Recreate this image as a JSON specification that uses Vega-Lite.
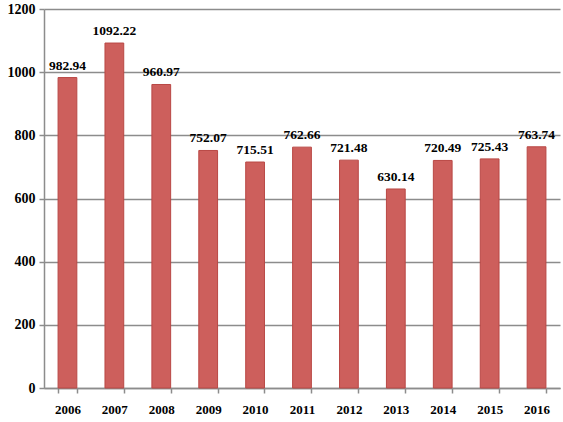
{
  "$schema": "https://vega.github.io/schema/vega-lite/v6.json",
  "width": 516,
  "height": 379,
  "autosize": "none",
  "padding": {"left": 44, "top": 9, "right": 3, "bottom": 34},
  "data": {
    "values": [
      {"year": "2006", "value": 982.94},
      {"year": "2007", "value": 1092.22},
      {"year": "2008", "value": 960.97},
      {"year": "2009", "value": 752.07},
      {"year": "2010", "value": 715.51},
      {"year": "2011", "value": 762.66},
      {"year": "2012", "value": 721.48},
      {"year": "2013", "value": 630.14},
      {"year": "2014", "value": 720.49},
      {"year": "2015", "value": 725.43},
      {"year": "2016", "value": 763.74}
    ]
  },
  "encoding": {
    "x": {
      "field": "year",
      "type": "ordinal",
      "scale": {"paddingInner": 0.6, "paddingOuter": 0.3},
      "axis": {
        "title": null,
        "labelAngle": 0,
        "tickBand": "extent",
        "tickSize": 5,
        "labelPadding": 10
      }
    },
    "y": {
      "field": "value",
      "type": "quantitative",
      "scale": {"domain": [0, 1200]},
      "axis": {
        "title": null,
        "values": [0, 200, 400, 600, 800, 1000, 1200],
        "format": "d",
        "tickSize": 5,
        "labelPadding": 4,
        "labelFontSize": 14,
        "grid": true
      }
    }
  },
  "layer": [
    {
      "mark": {"type": "bar", "fill": "#CD5F5C", "stroke": "#B94845", "strokeWidth": 1}
    },
    {
      "mark": {
        "type": "text",
        "dy": -12,
        "font": "Liberation Serif",
        "fontWeight": "bold",
        "fontSize": 13.5,
        "color": "#000000"
      },
      "encoding": {"text": {"field": "value", "type": "quantitative", "format": ".2f"}}
    }
  ],
  "config": {
    "view": {"stroke": null},
    "axis": {
      "labelFont": "Liberation Serif",
      "labelFontWeight": "bold",
      "labelFontSize": 13,
      "labelColor": "#000000",
      "domainColor": "#8C8C8C",
      "domainWidth": 1.5,
      "tickColor": "#8C8C8C",
      "tickWidth": 1.5,
      "gridColor": "#8C8C8C",
      "gridWidth": 1.5,
      "gridOpacity": 1
    }
  }
}
